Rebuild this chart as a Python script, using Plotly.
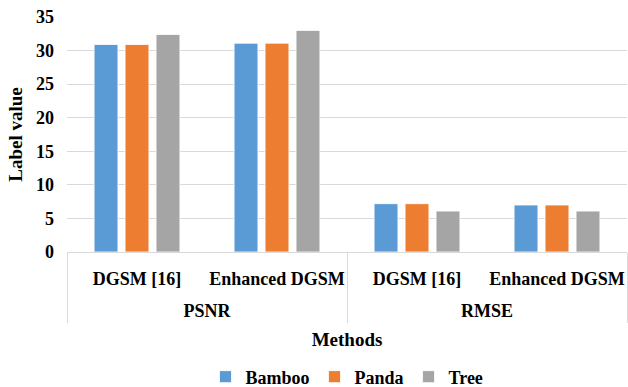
import plotly.graph_objects as go

metrics = ["PSNR", "PSNR", "RMSE", "RMSE"]
methods = ["DGSM [16]", "Enhanced DGSM", "DGSM [16]", "Enhanced DGSM"]
bamboo = [30.9, 31.1, 7.2, 7.0]
panda = [30.9, 31.1, 7.2, 7.0]
tree = [32.4, 33.0, 6.1, 6.1]
series = [("Bamboo", bamboo, "#5B9BD5"), ("Panda", panda, "#ED7D31"), ("Tree", tree, "#A5A5A5")]
y_ticks = [0, 5, 10, 15, 20, 25, 30, 35]

FONT = "Liberation Serif"
TF = dict(family=FONT, size=18, color="#000000", weight="bold")

# unique category keys built from the two label levels
cats = [f"{m}|{d}" for m, d in zip(metrics, methods)]
groups = list(dict.fromkeys(metrics))
n = len(cats)
per = n // len(groups)
group_centers = [i * per + (per - 1) / 2 for i in range(len(groups))]
group_edges = [i * per - 0.5 for i in range(len(groups) + 1)]

fig = go.Figure()
for name, vals, col in series:
    fig.add_trace(go.Bar(
        x=cats, y=vals, name=name,
        marker=dict(color=col, line=dict(color="rgba(255,255,255,0.8)", width=1)),
    ))
# invisible helper so the group-label axis (x2) is drawn
fig.add_trace(go.Scatter(
    x=group_centers, y=[0] * len(group_centers), xaxis="x2", yaxis="y",
    mode="markers", marker=dict(opacity=0), showlegend=False, hoverinfo="skip",
))

fig.update_layout(
    width=628, height=387,
    margin=dict(l=67, r=1, t=17, b=135),
    paper_bgcolor="white", plot_bgcolor="white",
    barmode="group", bargap=0.336, bargroupgap=0.23,
    font=dict(family=FONT, size=18, color="#000000", weight="bold"),
    showlegend=True,
    legend=dict(orientation="h", x=0.5, xanchor="center",
                yref="container", y=0.026, yanchor="middle",
                font=TF, traceorder="normal"),
    xaxis=dict(
        type="category", range=[-0.5, n - 0.5], automargin=False,
        tickvals=cats, ticktext=methods, tickangle=0,
        showline=True, linecolor="#D9D9D9", linewidth=1,
        ticks="", showgrid=False, zeroline=False,
        tickfont=TF, ticklabelstandoff=10,
    ),
    xaxis2=dict(
        overlaying="x", anchor="y", side="bottom", type="linear",
        range=[-0.5, n - 0.5], automargin=False,
        tickmode="array", tickvals=group_centers, ticktext=groups, tickangle=0,
        showline=False, showgrid=False, zeroline=False, ticks="",
        tickfont=TF, ticklabelstandoff=46,
        minor=dict(tickmode="array", tickvals=group_edges, ticks="outside",
                   ticklen=70, tickcolor="#D9D9D9", tickwidth=1, showgrid=False),
        title=dict(text="Methods", font=dict(family=FONT, size=19, color="#000000", weight="bold"), standoff=12),
    ),
    yaxis=dict(
        range=[0, 35], tickvals=y_ticks, automargin=False,
        showgrid=True, gridcolor="#D9D9D9", gridwidth=1,
        zeroline=False, showline=False,
        tickfont=TF, ticklabelstandoff=12,
        title=dict(text="Label value", font=dict(family=FONT, size=19, color="#000000", weight="bold"), standoff=8),
        ticks="", ticklen=0,
    ),
)

fig.write_html("out.html", config={"displayModeBar": False},
               post_script="document.body.style.margin='0px';")
